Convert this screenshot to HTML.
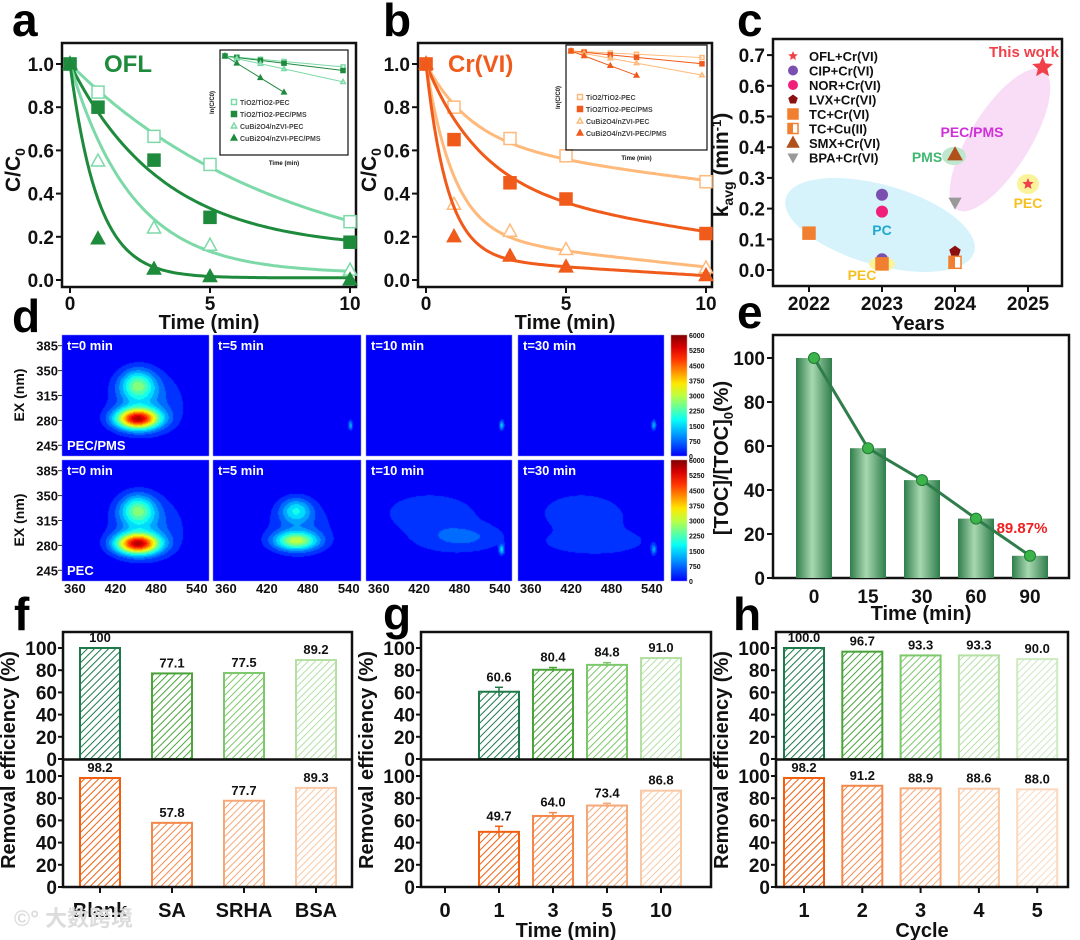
<!DOCTYPE html>
<html><head><meta charset="utf-8"><style>
body{margin:0;background:#fff;width:1080px;height:940px;overflow:hidden;position:relative;font-family:"Liberation Sans","Noto Sans CJK SC",sans-serif}
#cv{position:absolute;left:0;top:0}
#fig{position:absolute;left:0;top:0}
text{font-family:"Liberation Sans","Noto Sans CJK SC",sans-serif;font-weight:bold}
</style></head><body>
<canvas id="cv" width="1080" height="940"></canvas>
<svg id="fig" width="1080" height="940" xmlns="http://www.w3.org/2000/svg">
<defs id="defs"></defs>
</svg>
<script>
// ---------- DATA ----------
const timesA=[0,1,3,5,10];
const aNames=['TiO2/TiO2-PEC','TiO2/TiO2-PEC/PMS','CuBi2O4/nZVI-PEC','CuBi2O4/nZVI-PEC/PMS'];
const aTiPec=[1,0.87,0.665,0.535,0.27];
const aTiPms=[1,0.80,0.555,0.29,0.175];
const aCuPec=[1,0.55,0.24,0.16,0.045];
const aCuPms=[1,0.19,0.05,0.015,0.0];
const aFit=[[0,0.13,0],[0.14,0.3,0],[0.03,0.45,0],[0.01,1.0,0]];
const bTiPec=[1,0.80,0.655,0.575,0.455];
const bTiPms=[1,0.65,0.45,0.375,0.215];
const bCuPec=[1,0.35,0.225,0.14,0.055];
const bCuPms=[1,0.20,0.11,0.06,0.02];
const bFit=[[0.62,0.6,0.016],[0.4,0.5,0.018],[0.2,1.0,0.014],[0.1,1.3,0.008]];
const cYears=[2025.2,2025,2023,2023,2023,2024,2022,2023,2024,2024,2024];
const cK=[0.66,0.28,0.245,0.035,0.19,0.06,0.12,0.02,0.025,0.375,0.22];
const cType=[0,0,1,1,2,3,4,4,5,6,7];
const cLegend=['OFL+Cr(VI)','CIP+Cr(VI)','NOR+Cr(VI)','LVX+Cr(VI)','TC+Cr(VI)','TC+Cu(II)','SMX+Cr(VI)','BPA+Cr(VI)'];
const eCats=['0','15','30','60','90'];
const eVals=[100,59,44.5,27,10.1];
const fCats=['Blank','SA','SRHA','BSA'];
const fTop=[100,77.1,77.5,89.2];
const fBot=[98.2,57.8,77.7,89.3];
const gCats=['0','1','3','5','10'];
const gTop=[0,60.6,80.4,84.8,91.0];
const gBot=[0,49.7,64.0,73.4,86.8];
const gTopErr=[0,4,2,2,0];
const gBotErr=[0,5,3,2,0];
const hCats=['1','2','3','4','5'];
const hTop=[100.0,96.7,93.3,93.3,90.0];
const hBot=[98.2,91.2,88.9,88.6,88.0];
// EEM blobs: [em, ex, amp, sx, sy]
const eemPMS=[[[452,283,5200,22,10],[452,330,2200,18,15],[465,305,900,40,32]],[[542,274,1400,2.5,5]],[[542,274,1600,2.5,5]],[[542,274,1500,2.5,5]]];
const eemPEC=[[[452,283,5200,22,10],[452,330,2200,18,15],[465,305,900,40,32]],[[462,287,2700,22,9],[462,330,1500,16,12],[468,305,700,38,28]],[[485,292,550,40,12],[430,330,450,45,18],[460,300,350,80,40],[542,275,1500,2.5,5]],[[430,330,450,40,18],[450,285,400,50,10],[460,300,350,80,40],[542,275,1200,2.5,5]]];

// ---------- HELPERS ----------
const NS='http://www.w3.org/2000/svg';
const S=document.getElementById('fig');
const D=document.getElementById('defs');
function mk(tag,at,par){const e=document.createElementNS(NS,tag);for(const k in at)e.setAttribute(k,at[k]);(par||S).appendChild(e);return e;}
function txt(x,y,s,size,name,opt){opt=opt||{};const e=mk('text',{x:x,y:y,'font-size':size,fill:opt.fill||'#111','text-anchor':opt.anchor||'middle'});
 if(opt.rot)e.setAttribute('transform','rotate('+opt.rot+' '+x+' '+y+')');e.textContent=s;
 
 return e;}
function box(x1,y1,x2,y2,name){const e=mk('rect',{x:x1,y:y1,width:x2-x1,height:y2-y1,fill:'none',stroke:'#111','stroke-width':2.5});
 
 return e;}
function line(x1,y1,x2,y2,st,w,name){const e=mk('line',{x1:x1,y1:y1,x2:x2,y2:y2,stroke:st,'stroke-width':w});
 
 return e;}
function marker(type,x,y,r,col,filled,name){let e;
 const f=filled?col:'#fff';
 if(type==='sq')e=mk('rect',{x:x-r,y:y-r,width:2*r,height:2*r,fill:f,stroke:col,'stroke-width':1.5});
 else if(type==='tri')e=mk('polygon',{points:(x)+','+(y-r*1.2)+' '+(x-r*1.1)+','+(y+r*0.8)+' '+(x+r*1.1)+','+(y+r*0.8),fill:f,stroke:col,'stroke-width':1.5});
 else if(type==='dtri')e=mk('polygon',{points:(x)+','+(y+r*1.2)+' '+(x-r*1.1)+','+(y-r*0.8)+' '+(x+r*1.1)+','+(y-r*0.8),fill:f,stroke:'none'});
 else if(type==='circ')e=mk('circle',{cx:x,cy:y,r:r,fill:f});
 else if(type==='pent'){let p=[];for(let i=0;i<5;i++){const a=-Math.PI/2+i*2*Math.PI/5;p.push((x+r*Math.cos(a))+','+(y+r*Math.sin(a)));}e=mk('polygon',{points:p.join(' '),fill:f});}
 else if(type==='star'){let p=[];for(let i=0;i<10;i++){const a=-Math.PI/2+i*Math.PI/5;const rr=i%2?r*0.45:r;p.push((x+rr*Math.cos(a))+','+(y+rr*Math.sin(a)));}e=mk('polygon',{points:p.join(' '),fill:f});}
 else if(type==='half'){e=mk('g',{});mk('rect',{x:x-r,y:y-r,width:2*r,height:2*r,fill:'#fff',stroke:col,'stroke-width':1.5},e);mk('rect',{x:x-r,y:y-r,width:r,height:2*r,fill:col},e);}
 
 return e;}
function hatch(id,bg,st){const p=mk('pattern',{id:id,patternUnits:'userSpaceOnUse',width:5,height:5,patternTransform:'rotate(45)'},D);
 mk('rect',{x:0,y:0,width:5,height:5,fill:bg},p);mk('line',{x1:0,y1:0,x2:0,y2:5,stroke:st,'stroke-width':2},p);}

// ---------- PANEL LETTERS ----------
[['a',12,36],['b',383,36],['c',737,36],['d',12,332],['e',737,328],['f',14,630],['g',383,630],['h',733,630]].forEach(l=>{
 const t=txt(l[1],l[2],l[0],46,'panel-label-'+l[0],{anchor:'start'});t.setAttribute('fill','#000');});

// ---------- PANELS a & b ----------
function kinetics(key,x0,x1,tx0,titleTxt,titleCol,series,fits,dark,light,inset){
 const X=t=>tx0+t*28, Y=v=>280-v*216;
 box(x0,43,x1,287,'panel-'+key+'-frame');
 [0,0.2,0.4,0.6,0.8,1.0].forEach(v=>{line(x0-6,Y(v),x0,Y(v),'#111',2,'y-tick');txt(x0-8,Y(v)+7,v.toFixed(1),19,'y-tick-label',{anchor:'end'});});
 [0,5,10].forEach(t=>{line(X(t),287,X(t),293,'#111',2,'x-tick');txt(X(t),310,String(t),19,'x-tick-label');});
 txt((x0+x1)/2,329,'Time (min)',20,'x-axis-title');
 const yl=mk('text',{x:x0-42,y:170,'font-size':21,fill:'#111','text-anchor':'middle',transform:'rotate(-90 '+(x0-42)+' 170)'});
 yl.innerHTML='C/C<tspan font-size="14" dy="5">0</tspan>';
 
 
 txt(x0+(key==='a'?42:30),72,titleTxt,24,'panel-'+key+'-title',{anchor:'start',fill:titleCol});
 const cols=[light,dark,light,dark],types=['sq','sq','tri','tri'],fill=[false,true,false,true];
 series.forEach((s,i)=>{const f=fits[i];let d='';
  for(let t=0;t<=10.001;t+=0.1){const v=f[0]-f[2]*t+(1-f[0])*Math.exp(-f[1]*t);d+=(t?'L':'M')+X(t).toFixed(1)+','+Y(v).toFixed(1);}
  const p=mk('path',{d:d,fill:'none',stroke:cols[i],'stroke-width':3});
  
  
  s.forEach((v,j)=>marker(types[i],X(timesA[j]),Y(v),6,cols[i],fill[i],'data-point'));});
 // inset
 const ix0=inset[0],iy0=inset[1],ix1=inset[2],iy1=inset[3];
 box(ix0,iy0,ix1,iy1,'inset-frame').setAttribute('stroke-width',1.2);
 const IX=t=>ix0+5+t*(ix1-ix0-10)/10, IY=v=>iy0+6-v*(iy1-iy0-30)/9;
 series.forEach((s,i)=>{const k=-Math.log(Math.max(s[4],0.003))/10*(i==3?1.5:1);let pts=[];
  timesA.forEach((t,j)=>{if(i==3&&t>5)return;const v=-k*t;pts.push(IX(t)+','+IY(v));marker(types[i],IX(t),IY(v),2,cols[i],fill[i],'inset-point');});
  const pl=mk('polyline',{points:pts.join(' '),fill:'none',stroke:cols[i],'stroke-width':1});
  
  });
 aNames.forEach((n,i)=>{marker(types[i],ix0+14,iy0+52+i*12,2.5,cols[i],fill[i],'inset-legend-marker');
  const t=txt(ix0+20,iy0+55+i*12,n,7,'inset-legend-text',{anchor:'start'});t.setAttribute('fill','#444');});
 txt((ix0+ix1)/2,iy1+10,'Time (min)',6,'inset-x-title');
 txt(ix0-6,(iy0+iy1)/2,'ln(C/C0)',6,'inset-y-title',{rot:-90});
}
kinetics('a',62,356,70,'OFL','#1e8a3c',[aTiPec,aTiPms,aCuPec,aCuPms],aFit,'#1e8a3c','#7dd9a8',[220,50,348,155]);
kinetics('b',418,712,426,'Cr(VI)','#f05a1a',[bTiPec,bTiPms,bCuPec,bCuPms],bFit,'#f05a1a','#ffb97a',[566,45,707,150]);

// ---------- PANEL c ----------
(function(){
 const X=y=>809+(y-2022)*73, Y=v=>270-v*307;
 const e1=mk('ellipse',{cx:880,cy:225,rx:98,ry:40,fill:'#d6f3fb',transform:'rotate(16 880 225)'});
 
 
 const e2=mk('ellipse',{cx:1000,cy:140,rx:82,ry:30,fill:'#f9ddf6',transform:'rotate(-58 1000 140)'});
 
 
 const e3=mk('ellipse',{cx:954,cy:156,rx:12,ry:9,fill:'#bfe6cf'});
 
 
 const e4=mk('ellipse',{cx:1028,cy:184,rx:11,ry:10,fill:'#fbf39a'});
 
 
 const e5=mk('ellipse',{cx:882,cy:264,rx:13,ry:7,fill:'#fbf39a'});
 
 
 box(773,39,1062,286,'panel-c-frame');
 [0,0.1,0.2,0.3,0.4,0.5,0.6,0.7].forEach(v=>{line(767,Y(v),773,Y(v),'#111',2,'y-tick');txt(765,Y(v)+7,v.toFixed(1),19,'y-tick-label',{anchor:'end'});});
 [2022,2023,2024,2025].forEach(y=>{line(X(y),286,X(y),292,'#111',2,'x-tick');txt(X(y),310,String(y),19,'x-tick-label');});
 txt(918,330,'Years',20,'x-axis-title');
 const yl=mk('text',{x:728,y:165,'font-size':21,fill:'#111','text-anchor':'middle',transform:'rotate(-90 728 165)'});
 yl.innerHTML='k<tspan font-size="14" dy="5">avg</tspan><tspan dy="-5"> (min</tspan><tspan font-size="13" dy="-7">-1</tspan><tspan dy="7">)</tspan>';
 
 
 const mt=['star','circ','circ','pent','sq','half','tri','dtri'];
 const mc=['#f0404a','#7a4fb0','#f0207a','#8b1010','#f08030','#f08030','#b0501a','#999'];
 cLegend.forEach((n,i)=>{marker(mt[i],793,56+i*14.5,5,mc[i],true,'legend-marker');txt(809,61+i*14.5,n,13,'legend-entry',{anchor:'start'});});
 cYears.forEach((y,i)=>{const t=cType[i];marker(mt[t],X(y),Y(cK[i]),i==0?11:6,mc[t],true,'point-'+cLegend[t]);});
 txt(1024,57,'This work',15,'annotation-this-work',{fill:'#f0404a'});
 txt(972,137,'PEC/PMS',14,'annotation-pec-pms',{fill:'#d030d8'});
 txt(927,162,'PMS',14,'annotation-pms',{fill:'#40b870'});
 txt(882,235,'PC',14,'annotation-pc',{fill:'#20a8d0'});
 txt(862,280,'PEC',14,'annotation-pec',{fill:'#f5c020'});
 txt(1028,208,'PEC',14,'annotation-pec',{fill:'#f5c020'});
})();

// ---------- PANEL d (EEM) ----------
(function(){
 const cv=document.getElementById('cv').getContext('2d');
 const cols=[[62,209],[213,361],[366,512],[518,664]],rows=[[335,456],[460,581]];
 function jet(v){v=0.12+0.88*Math.min(1,Math.max(0,v));const c=x=>Math.round(255*Math.min(1,Math.max(0,1.5-Math.abs(x))));return [c(4*v-3),c(4*v-2),c(4*v-1)];}
 [eemPMS,eemPEC].forEach((set,r)=>{set.forEach((blobs,c)=>{
  const [x0,x1]=cols[c],[y0,y1]=rows[r];const w=x1-x0,h=y1-y0;const img=cv.createImageData(w,h);
  for(let py=0;py<h;py++)for(let px=0;px<w;px++){const em=341+(px/w)*217, ex=400-(py/h)*170;let s=0;
   blobs.forEach(b=>{s+=b[2]*Math.exp(-((em-b[0])**2/(2*b[3]*b[3])+(ex-b[1])**2/(2*b[4]*b[4])));});
   const q=Math.floor(s/6000*16)/16;const col=jet(q);const k=(py*w+px)*4;img.data[k]=col[0];img.data[k+1]=col[1];img.data[k+2]=col[2];img.data[k+3]=255;}
  cv.putImageData(img,x0,y0);});
  const g=cv.createLinearGradient(0,rows[r][1],0,rows[r][0]);for(let i=0;i<=10;i++){const c=jet(i/10);g.addColorStop(i/10,'rgb('+c+')');}
  cv.fillStyle=g;cv.fillRect(671,rows[r][0],16,rows[r][1]-rows[r][0]);
 });
 const tl=['t=0 min','t=5 min','t=10 min','t=30 min'];
 rows.forEach((rw,r)=>{
  cols.forEach((cl,c)=>{txt(cl[0]+5,rw[0]+15,tl[c],13,'eem-time-label',{anchor:'start',fill:'#fff'});});
  txt(67,rw[1]-6,r?'PEC':'PEC/PMS',13,'eem-condition-label',{anchor:'start',fill:'#fff'});
  [385,350,315,280,245].forEach(v=>{const y=rw[0]+(400-v)/170*(rw[1]-rw[0]);txt(58,y+5,String(v),13,'ex-tick-label',{anchor:'end'});line(58,y,62,y,'#333',1,'ex-tick');});
  txt(24,rw[0]+60,'EX (nm)',14,'ex-axis-title',{rot:-90});
  for(let i=0;i<=8;i++){const v=i*750;const y=rw[1]-(rw[1]-rw[0])*v/6000;txt(689,y+3,String(v),7,'colorbar-tick-label',{anchor:'start'});}
 });
 cols.forEach(cl=>{[360,420,480,540].forEach(v=>{const x=cl[0]+(v-341)/217*(cl[1]-cl[0]);txt(x,593,String(v),13,'em-tick-label');});});
})();

// ---------- PANEL e ----------
(function(){
 const X=i=>814+i*54, Y=v=>578-v*2.2;
 const g=mk('linearGradient',{id:'eg',x1:0,x2:1,y1:0,y2:0},D);
 mk('stop',{offset:0,'stop-color':'#2f7d4a'},g);mk('stop',{offset:0.45,'stop-color':'#a8d8b0'},g);mk('stop',{offset:1,'stop-color':'#2f7d4a'},g);
 box(773,335,1069,578,'panel-e-frame');
 eVals.forEach((v,i)=>{const r=mk('rect',{x:X(i)-18,y:Y(v),width:36,height:578-Y(v),fill:'url(#eg)'});
  
  });
 const pl=mk('polyline',{points:eVals.map((v,i)=>X(i)+','+Y(v)).join(' '),fill:'none',stroke:'#2e7d4a','stroke-width':3});
 
 
 eVals.forEach((v,i)=>{const c=mk('circle',{cx:X(i),cy:Y(v),r:5.5,fill:'#3cb44a',stroke:'#1f7a34','stroke-width':1});
  
  });
 [0,20,40,60,80,100].forEach(v=>{line(767,Y(v),773,Y(v),'#111',2,'y-tick');txt(765,Y(v)+7,String(v),19,'y-tick-label',{anchor:'end'});});
 eCats.forEach((c,i)=>txt(X(i),603,c,19,'x-tick-label'));
 txt(921,620,'Time (min)',20,'x-axis-title');
 const yl=mk('text',{x:728,y:458,'font-size':20,fill:'#111','text-anchor':'middle',transform:'rotate(-90 728 458)'});
 yl.innerHTML='[TOC]/[TOC]<tspan font-size="13" dy="5">0</tspan><tspan dy="-5">(%)</tspan>';
 
 
 txt(1022,533,'89.87%',15,'toc-removal-annotation',{fill:'#f02020'});
})();

// ---------- PANELS f g h ----------
const greens=['#1e7a4a','#4aa43a','#7cc86a','#b4e0a4','#cdeac0'];
const oranges=['#f06010','#f4884a','#f7a878','#f9c8a4','#fbd9c0'];
greens.forEach((c,i)=>hatch('hg'+i,'#ffffff',c));
oranges.forEach((c,i)=>hatch('ho'+i,'#ffffff',c));
function removal(key,x0,x1,cats,X,top,bot,topErr,botErr,shadeIdx,xTitle,dec){
 const YT=v=>759-v*1.11, YB=v=>887-v*1.11;
 [[top,YT,'hg',greens,topErr,'top'],[bot,YB,'ho',oranges,botErr,'bottom']].forEach(s=>{
  s[0].forEach((v,i)=>{if(v<=0)return;const si=shadeIdx[i];const y=s[1](v),y0=s[1](0);
   const r=mk('rect',{x:X(i)-20,y:y,width:40,height:y0-y,fill:'url(#'+s[2]+si+')',stroke:s[3][si],'stroke-width':2});
   
   
   if(s[4]&&s[4][i]){line(X(i),y-s[4][i]*1.11,X(i),y+s[4][i]*1.11,s[3][si],1.5,'error-bar');line(X(i)-4,y-s[4][i]*1.11,X(i)+4,y-s[4][i]*1.11,s[3][si],1.5,'error-cap');}
   txt(X(i),y-6-(s[4]&&s[4][i]?s[4][i]*1.11:0),dec?v.toFixed(1):String(v),13,'value-label');});
  [0,20,40,60,80,100].forEach(v=>{line(x0-5,s[1](v),x0,s[1](v),'#111',2,'y-tick');txt(x0-6,s[1](v)+7,String(v),19,'y-tick-label',{anchor:'end'});});
 });
 box(x0,632,x1,887,'panel-'+key+'-frame');
 line(x0,759.5,x1,759.5,'#111',2.5,'panel-divider');
 cats.forEach((c,i)=>{line(X(i),887,X(i),893,'#111',2,'x-tick');txt(X(i),917,c,20,'x-tick-label');});
 if(xTitle)txt((x0+x1)/2,937,xTitle,20,'x-axis-title');
 txt(x0-48,760,'Removal efficiency (%)',20,'y-axis-title',{rot:-90});
}
removal('f',63,352,fCats,i=>100+i*72,fTop,fBot,null,null,[0,1,2,3],null,false);
removal('g',421,711,gCats,i=>445+i*54,gTop,gBot,gTopErr,gBotErr,[0,0,1,2,3],'Time (min)',true);
removal('h',776,1068,hCats,i=>804+i*58.3,hTop,hBot,null,null,[0,1,2,3,4],'Cycle',true);
// watermark
txt(14,926,'©° 大数跨境',22,'watermark',{anchor:'start',fill:'#dcdcdc'});
</script>
</body></html>
